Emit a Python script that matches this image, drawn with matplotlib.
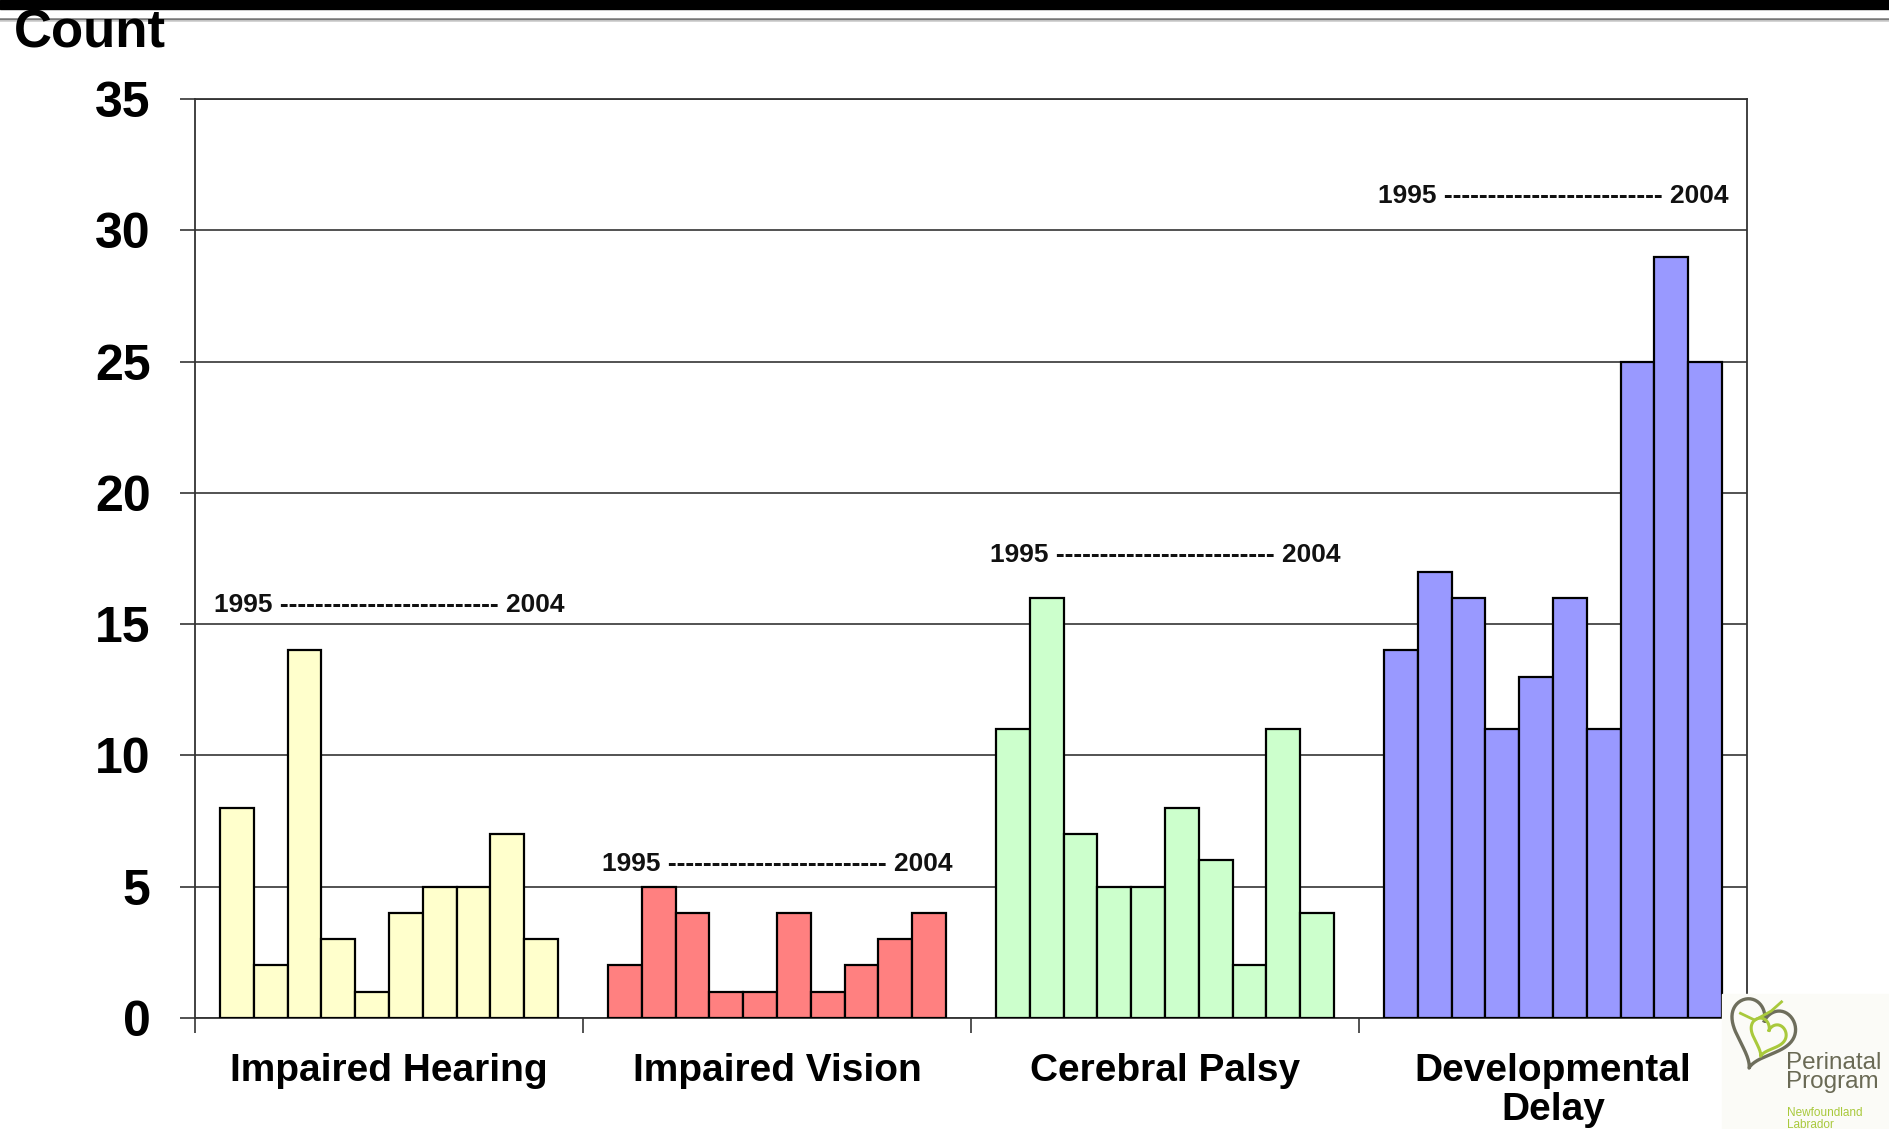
import numpy as np
import matplotlib.pyplot as plt
from matplotlib.patches import Rectangle
from matplotlib.lines import Line2D

plt.rcParams['font.family'] = ['Liberation Sans', 'DejaVu Sans']

categories = ['Impaired Hearing', 'Impaired Vision', 'Cerebral Palsy', 'Developmental\nDelay']
hearing = [8, 2, 14, 3, 1, 4, 5, 5, 7, 3]
vision = [2, 5, 4, 1, 1, 4, 1, 2, 3, 4]
palsy = [11, 16, 7, 5, 5, 8, 6, 2, 11, 4]
delay = [14, 17, 16, 11, 13, 16, 11, 25, 29, 25]
colors = ['#FFFFCC', '#FF8080', '#CCFFCC', '#9999FF']
yticks = [0, 5, 10, 15, 20, 25, 30, 35]
span_label = '1995 ' + '-' * 25 + ' 2004'
span_y = [15.45, 5.6, 17.35, 31.05]

W, H = 1889, 1129
fig = plt.figure(figsize=(W / 100, H / 100), dpi=100)
ax = fig.add_axes([195 / W, 1 - 1018 / H, (1747 - 195) / W, (1018 - 99) / H])

bw = 0.087
margin = 0.065
for i, vals in enumerate([hearing, vision, palsy, delay]):
    x = i + margin + bw * (np.arange(len(vals)) + 0.5)
    ax.bar(x, vals, width=bw, color=colors[i], edgecolor='black', linewidth=1.6, zorder=3)
    ax.text(i + 0.5, span_y[i], span_label, ha='center', va='baseline',
            fontsize=19, fontweight='bold', color='#111111', zorder=4)

ax.set_xlim(0, 4)
ax.set_ylim(0, 35)
ax.set_yticks(yticks)
ax.set_yticklabels([str(v) for v in yticks], fontsize=36, fontweight='bold')
ax.yaxis.grid(True, color='#444444', linewidth=1.3, zorder=0)

ax.set_xticks(range(5))
ax.set_xticklabels([''] * 5)
ax.set_xticks(np.arange(4) + 0.5, minor=True)
ax.set_xticklabels(categories, minor=True, fontsize=28, fontweight='bold', linespacing=1.13, va='top')
ax.tick_params(axis='x', which='minor', length=0, pad=25)
ax.tick_params(axis='x', which='major', length=11, width=1.3, color='#444444', direction='out')
ax.tick_params(axis='y', length=11, width=1.3, color='#444444', direction='out', pad=21)

for side in ['left', 'right', 'top', 'bottom']:
    ax.spines[side].set_color('#333333')
    ax.spines[side].set_linewidth(1.3)

# header band and title
fig.add_artist(Rectangle((0, 1 - 8.5 / H), 1, 8.5 / H, transform=fig.transFigure,
                         color='black', zorder=5))
fig.add_artist(Line2D([0, 1], [1 - 18.5 / H] * 2, transform=fig.transFigure,
                      color='#777777', linewidth=1.8, zorder=5))
fig.add_artist(Line2D([0, 1], [1 - 20.5 / H] * 2, transform=fig.transFigure,
                      color='#cccccc', linewidth=1.2, zorder=5))
fig.text(14 / W, 1 - 47 / H, 'Count', fontsize=38, fontweight='bold', va='baseline', zorder=6)

# program logo in the lower right corner
fig.add_artist(Rectangle((1722 / W, 0), 167 / W, 135 / H, transform=fig.transFigure,
                         color='#FBFBF7', zorder=1))
lax = fig.add_axes([1722 / W, 1 - 1075 / H, 78 / W, 80 / H])
lax.set_zorder(2)
lax.set_axis_off()
t = np.linspace(0, 2 * np.pi, 200)
hx = 16 * np.sin(t) ** 3
hy = 13 * np.cos(t) - 5 * np.cos(2 * t) - 2 * np.cos(3 * t) - np.cos(4 * t)
rot = np.deg2rad(-20)
lax.plot(hx * np.cos(rot) - hy * np.sin(rot), hx * np.sin(rot) + hy * np.cos(rot),
         color='#6E6E5C', linewidth=2.4)
s = 0.55
lax.plot(s * (hx * np.cos(rot) - hy * np.sin(rot)) + 3, s * (hx * np.sin(rot) + hy * np.cos(rot)) - 2,
         color='#A9C93C', linewidth=2.2)
lax.plot([-10, -3, 5, 10], [8, 5, 9, 13], color='#A9C93C', linewidth=2.0)
lax.set_xlim(-19, 19)
lax.set_ylim(-19, 16)

fig.text(1786 / W, 1 - 1069 / H, 'Perinatal', fontsize=17.5, color='#6A6A55', va='baseline', zorder=3)
fig.text(1786 / W, 1 - 1088 / H, 'Program', fontsize=17.5, color='#6A6A55', va='baseline', zorder=3)
fig.text(1787 / W, 1 - 1116 / H, 'Newfoundland', fontsize=8.5, color='#A9C93C', va='baseline', zorder=3)
fig.text(1787 / W, 1 - 1128 / H, 'Labrador', fontsize=8.5, color='#A9C93C', va='baseline', zorder=3)

fig.savefig('out.png', dpi=100)
